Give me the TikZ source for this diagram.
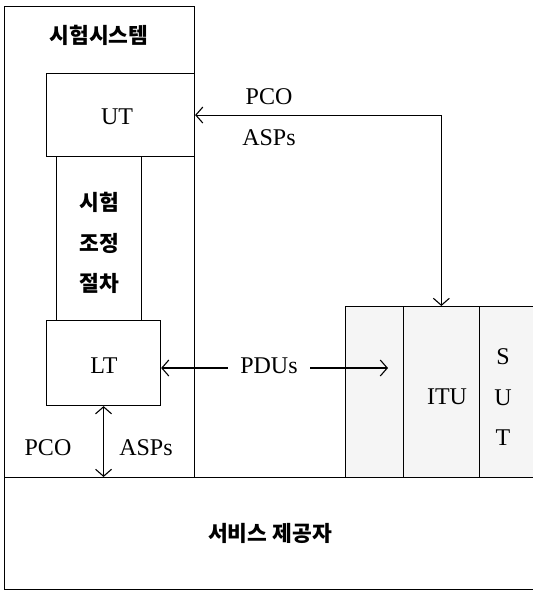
\documentclass[tikz,border=0pt]{standalone}
\usepackage{fontspec}
\setmainfont{Liberation Serif}
\newfontfamily\kr{Noto Sans CJK KR}
\usetikzlibrary{arrows.meta}
\begin{document}
\begin{tikzpicture}[x=1pt,y=-1pt,
  line width=1.1pt,
  >={Straight Barb[length=7pt,width=16pt,line width=1.1pt]},
  box/.style={draw, line width=1.1pt, anchor=north west, inner sep=0pt},
  shade/.style={box, fill=black!4},
  lat/.style={font=\fontsize{24}{28}\selectfont},
  hang/.style={font=\kr\bfseries\fontsize{21.5}{25}\selectfont}]
\useasboundingbox (0,0) rectangle (533,590);
% service provider (open on the right)
\node[box, minimum width=545pt, minimum height=112pt] (SP) at (4,477) {};
% test system
\node[box, minimum width=190pt, minimum height=471pt] (TS) at (4,6) {};
\node[box, fill=white, minimum width=148pt, minimum height=83pt] (UT) at (46,73) {};
\node[box, fill=white, minimum width=85pt, minimum height=164pt] (TC) at (56,156) {};
\node[box, fill=white, minimum width=114pt, minimum height=85pt] (LT) at (46,320) {};
% right stack
\node[shade, minimum width=58pt, minimum height=171pt] (A) at (345,306) {};
\node[shade, minimum width=75.6pt, minimum height=171pt] (ITU) at (403,306) {};
\node[shade, minimum width=70pt, minimum height=171pt] (SUT) at (478.6,306) {};
% labels
\node[hang] (tsl) at (99,35) {시험시스템};
\node[lat] (utl) at (117,117) {UT};
\node[hang] (tc1) at (99,202) {시험};
\node[hang] (tc2) at (99,243) {조정};
\node[hang] (tc3) at (99,283) {절차};
\node[lat] (ltl) at (104,366) {LT};
\node[lat] (itul) at (447,397) {ITU};
\node[lat] (s1) at (503,357) {S};
\node[lat] (s2) at (503,398) {U};
\node[lat] (s3) at (503,438) {T};
\node[hang] (spl) at (270,533) {서비스 제공자};
\node[lat] (pco1) at (269,97) {PCO};
\node[lat] (asp1) at (269,138) {ASPs};
\node[lat] (pco2) at (48,448) {PCO};
\node[lat] (asp2) at (146,448) {ASPs};
\node[lat, inner xsep=12pt] (pdu) at (269,366) {PDUs};
\coordinate (pend) at (388,368);
% connectors
\draw[<->] (UT.east) -| (ITU.north);
\draw[<-] (LT.east |- pend) -- (pdu.west |- pend);
\draw[->] (pdu.east |- pend) -- (pend);
\draw[<->] (LT.south) -- (LT.south |- SP.north);
\end{tikzpicture}
\end{document}
